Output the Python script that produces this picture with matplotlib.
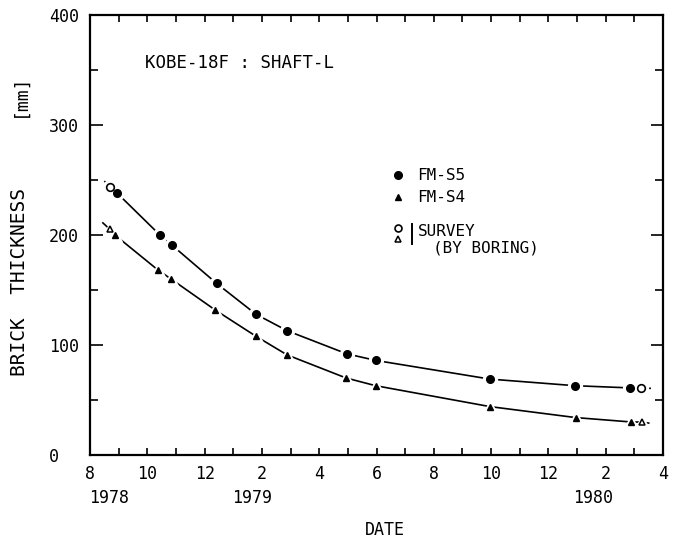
import matplotlib
matplotlib.use("Agg")
import matplotlib.pyplot as plt
import matplotlib.transforms as mtransforms

plt.rcParams['font.family'] = ['DejaVu Sans Mono', 'DejaVu Sans']

# ---- data (x = months after 1 Aug 1978) ----
s5_month = [0.95, 2.44, 2.85, 4.42, 5.79, 6.88, 8.96, 9.97, 13.96, 16.93, 18.85]
s5_value = [238, 200, 191, 156, 128, 113, 92, 86, 69, 63, 61]
s4_month = [0.87, 2.38, 2.83, 4.36, 5.79, 6.88, 8.94, 9.97, 13.96, 16.96, 18.90]
s4_value = [200, 168, 160, 132, 108, 91, 70, 63, 44, 34, 30]
survey_s5_month = [0.70, 19.22]
survey_s5_value = [244, 61]
survey_s4_month = [0.70, 19.25]
survey_s4_value = [205, 30]
# ends of the drawn fit curves
curve_s5_ends_month = [0.52, 19.55]
curve_s5_ends_value = [248.5, 60.6]
curve_s4_ends_month = [0.45, 19.50]
curve_s4_ends_value = [211, 29]

month_ticks = list(range(0, 21, 2))
month_labels = ['8', '10', '12', '2', '4', '6', '8', '10', '12', '2', '4']
year_labels = ['1978', '1979', '1980']
year_label_month = [-0.05, 4.95, 16.85]
y_ticks = [0, 100, 200, 300, 400]

fig = plt.figure(figsize=(6.75, 5.39), dpi=100)
ax = fig.add_axes([90/675, 1-455/539, 573/675, 440/539])
ax.set_xlim(0, 20)
ax.set_ylim(0, 400)


def curve(ends_m, ends_v, pts):
    pts = sorted(pts)
    xs = [ends_m[0]] + [p[0] for p in pts] + [ends_m[1]]
    ys = [ends_v[0]] + [p[1] for p in pts] + [ends_v[1]]
    return xs, ys


c5x, c5y = curve(curve_s5_ends_month, curve_s5_ends_value,
                 list(zip(s5_month, s5_value)) + list(zip(survey_s5_month, survey_s5_value)))
c4x, c4y = curve(curve_s4_ends_month, curve_s4_ends_value,
                 list(zip(s4_month, s4_value)) + list(zip(survey_s4_month, survey_s4_value)))

ax.plot(c5x, c5y, color='black', lw=1.2, zorder=2)
ax.plot(c4x, c4y, color='black', lw=1.2, zorder=2)

# white halos to break the line around markers
for mx, my, mk in [(s5_month, s5_value, 'o'), (survey_s5_month, survey_s5_value, 'o'),
                   (s4_month, s4_value, '^'), (survey_s4_month, survey_s4_value, '^')]:
    ax.plot(mx, my, ls='none', marker=mk, ms=10, mfc='white', mec='white', zorder=3)

ax.plot(s5_month, s5_value, ls='none', marker='o', ms=5.5, mfc='black', mec='black', zorder=4)
ax.plot(s4_month, s4_value, ls='none', marker='^', ms=5, mfc='black', mec='black', zorder=4)
ax.plot(survey_s5_month, survey_s5_value, ls='none', marker='o', ms=5.5, mfc='white',
        mec='black', mew=1.2, zorder=4)
ax.plot(survey_s4_month, survey_s4_value, ls='none', marker='^', ms=5, mfc='white',
        mec='black', mew=1.1, zorder=4)

# ticks
ax.set_xticks(month_ticks)
ax.set_xticklabels(month_labels, fontsize=12)
ax.set_xticks(range(0, 21), minor=True)
ax.set_yticks(y_ticks)
ax.set_yticklabels([str(v) for v in y_ticks], fontsize=12)
ax.set_yticks(range(0, 401, 50), minor=True)
ax.tick_params(axis='x', which='both', direction='in', top=True, length=5, width=1.2, pad=7)
ax.tick_params(axis='y', which='major', direction='in', right=True, length=9, width=1.2, pad=29.5)
ax.tick_params(axis='y', which='minor', direction='in', right=True, length=6, width=1.2)
for lab in ax.get_yticklabels():
    lab.set_horizontalalignment('left')
for sp in ax.spines.values():
    sp.set_linewidth(1.6)

# year labels
trans = mtransforms.blended_transform_factory(ax.transData, ax.transAxes)
for m, yl in zip(year_label_month, year_labels):
    ax.text(m, -0.098, yl, transform=trans, ha='left', va='center', fontsize=12,
            clip_on=False)

fig.text(384.5/675, 1-530/539, 'DATE', ha='center', va='center', fontsize=12)
fig.text(20/675, 1-282/539, 'BRICK  THICKNESS', rotation=90, ha='center', va='center',
         fontsize=14)
fig.text(20/675, 1-95/539, '[mm]', rotation=90, ha='center', va='center', fontsize=13)

# title
ax.text((145-90)/573, (455-63)/440, 'KOBE-18F : SHAFT-L', transform=ax.transAxes,
        ha='left', va='center', fontsize=12.5)


def axp(px, py):
    return (px-90)/573, (455-py)/440


# legend (drawn manually)
x, y = axp(398, 175)
ax.plot([x], [y], marker='o', ms=5.5, color='black', transform=ax.transAxes, clip_on=False)
x, y = axp(417, 175)
ax.text(x, y, 'FM-S5', transform=ax.transAxes, ha='left', va='center', fontsize=11.5)
x, y = axp(398, 197)
ax.plot([x], [y], marker='^', ms=4.5, color='black', transform=ax.transAxes, clip_on=False)
x, y = axp(417, 197)
ax.text(x, y, 'FM-S4', transform=ax.transAxes, ha='left', va='center', fontsize=11.5)
x, y = axp(398, 228)
ax.plot([x], [y], marker='o', ms=5, mfc='white', mec='black', mew=1.2,
        transform=ax.transAxes, clip_on=False)
x, y = axp(398, 239)
ax.plot([x], [y], marker='^', ms=4.5, mfc='white', mec='black', mew=1.1,
        transform=ax.transAxes, clip_on=False)
x0, y0 = axp(412, 224)
x1, y1 = axp(412, 244)
ax.plot([x0, x1], [y0, y1], color='black', lw=1.4, transform=ax.transAxes, clip_on=False)
x, y = axp(418, 232)
ax.text(x, y, 'SURVEY', transform=ax.transAxes, ha='left', va='center', fontsize=11.5)
x, y = axp(433, 248)
ax.text(x, y, '(BY BORING)', transform=ax.transAxes, ha='left', va='center', fontsize=11.5)

fig.savefig('out.png', dpi=100)
